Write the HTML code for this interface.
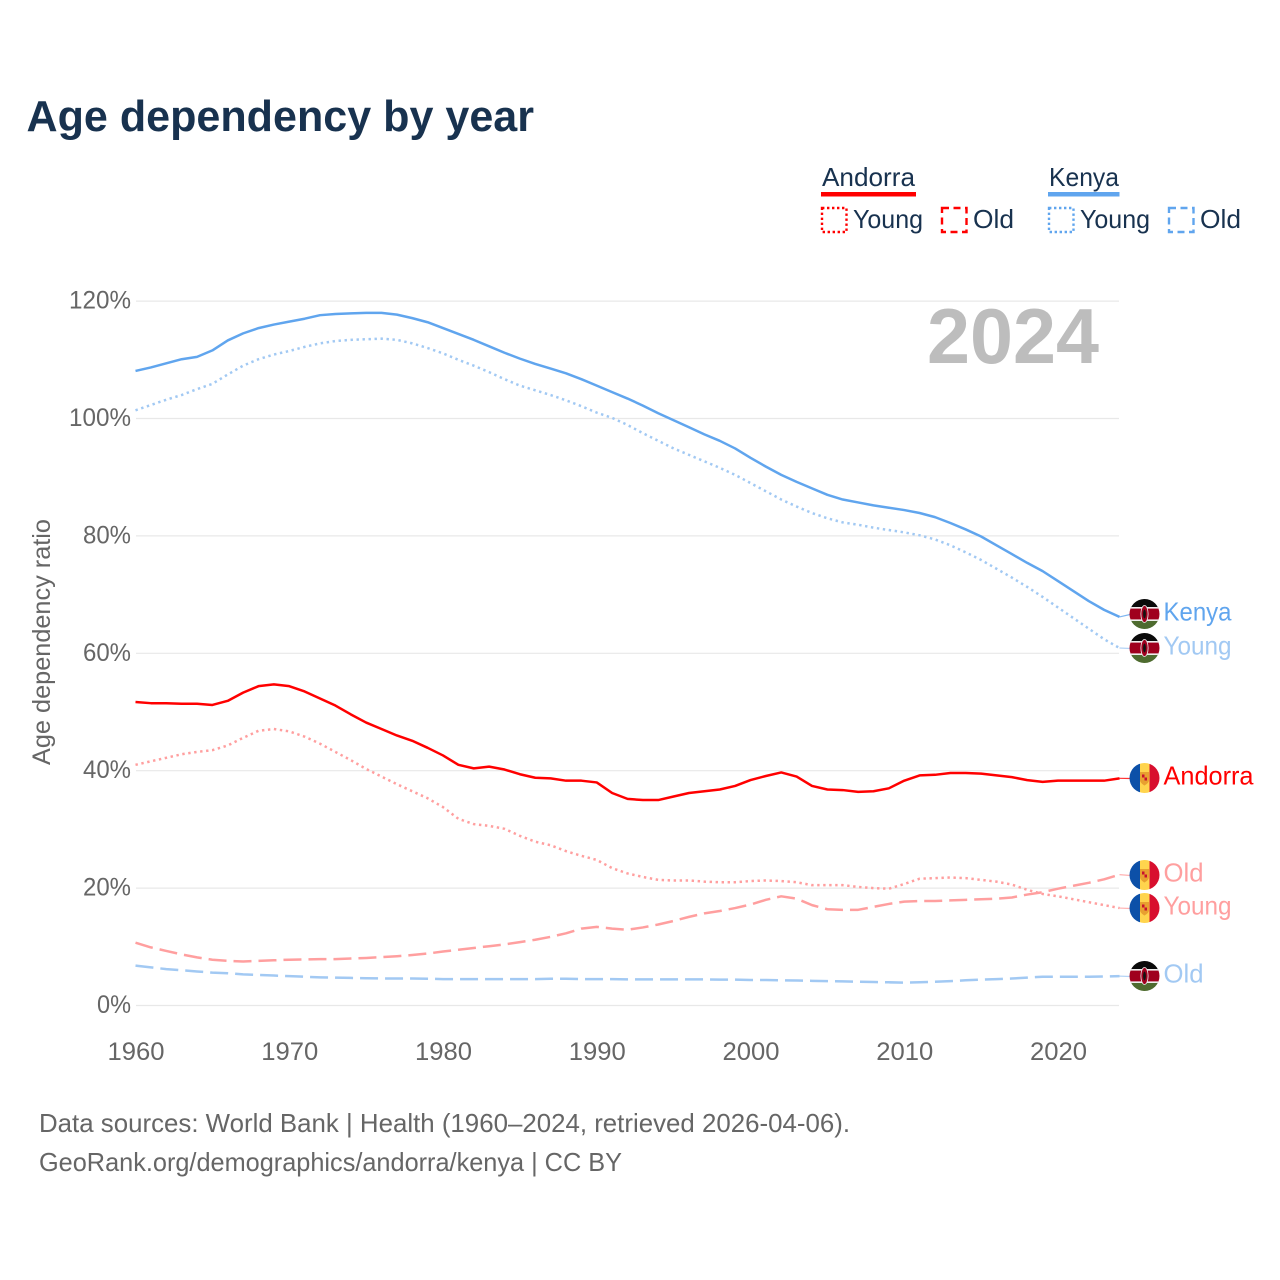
<!DOCTYPE html>
<html lang="en">
<head>
<meta charset="utf-8">
<title>Age dependency by year</title>
<style>
html,body{margin:0;padding:0;background:#fff;}
svg{display:block;font-family:"Liberation Sans",sans-serif;}
</style>
</head>
<body>
<svg id="chart" xmlns="http://www.w3.org/2000/svg" width="1280" height="1280" viewBox="0 0 1280 1280">
  <defs>
    <clipPath id="flag-clip"><circle cx="0" cy="0" r="15"></circle></clipPath>
  </defs>
  <rect width="1280" height="1280" fill="#fff"></rect>
  <text x="26.5" y="131" font-size="44" font-weight="700" fill="#18324f" textLength="507.5" lengthAdjust="spacingAndGlyphs">Age dependency by year</text>

  <g font-size="26" fill="#18324f">
    <text x="822" y="186" textLength="93" lengthAdjust="spacingAndGlyphs">Andorra</text>
    <rect x="821" y="192" width="95" height="4.5" fill="#ff0000"></rect>
    <rect x="822" y="208" width="24.5" height="24" fill="none" stroke="#ff0000" stroke-width="2.4" stroke-dasharray="2.4 2.6"></rect>
    <text x="853" y="228" textLength="70" lengthAdjust="spacingAndGlyphs">Young</text>
    <rect x="942" y="208" width="24.5" height="24" fill="none" stroke="#ff0000" stroke-width="2.4" stroke-dasharray="7 4.5"></rect>
    <text x="973" y="228" textLength="41" lengthAdjust="spacingAndGlyphs">Old</text>
    <text x="1049" y="186" textLength="70" lengthAdjust="spacingAndGlyphs">Kenya</text>
    <rect x="1048" y="192" width="71.5" height="4.5" fill="#60a5ee"></rect>
    <rect x="1049" y="208" width="24.5" height="24" fill="none" stroke="#60a5ee" stroke-width="2.4" stroke-dasharray="2.4 2.6"></rect>
    <text x="1080" y="228" textLength="70" lengthAdjust="spacingAndGlyphs">Young</text>
    <rect x="1169" y="208" width="24.5" height="24" fill="none" stroke="#60a5ee" stroke-width="2.4" stroke-dasharray="7 4.5"></rect>
    <text x="1200" y="228" textLength="41" lengthAdjust="spacingAndGlyphs">Old</text>
  </g>

  <g id="grid"></g>
  <g id="y-ticks" font-size="25" fill="#666"></g>
  <g id="x-ticks" font-size="25" fill="#666"></g>
  <text transform="translate(50,642) rotate(-90)" text-anchor="middle" font-size="25" fill="#666" textLength="246" lengthAdjust="spacingAndGlyphs">Age dependency ratio</text>
  <text x="927" y="363" font-size="78" font-weight="700" fill="#bdbdbd" textLength="172" lengthAdjust="spacingAndGlyphs">2024</text>
  <g id="series"></g>
  <g id="end-labels"></g>

  <g font-size="26" fill="#666">
    <text x="39" y="1132" textLength="811" lengthAdjust="spacingAndGlyphs">Data sources: World Bank | Health (1960–2024, retrieved 2026-04-06).</text>
    <text x="39" y="1171" textLength="583" lengthAdjust="spacingAndGlyphs">GeoRank.org/demographics/andorra/kenya | CC BY</text>
  </g>
</svg>
<script>
var startYear = 1960;
var xTickYears = [1960, 1970, 1980, 1990, 2000, 2010, 2020];
var yTickValues = [0, 20, 40, 60, 80, 100, 120];

var kenyaTotal = [108.1,108.7,109.4,110.1,110.5,111.6,113.3,114.5,115.4,116.0,116.5,117.0,117.6,117.8,117.9,118.0,118.0,117.7,117.1,116.4,115.4,114.4,113.4,112.3,111.2,110.2,109.3,108.5,107.7,106.7,105.6,104.5,103.4,102.2,100.9,99.7,98.5,97.3,96.2,94.9,93.3,91.8,90.4,89.2,88.1,87.0,86.2,85.7,85.2,84.8,84.4,83.9,83.2,82.2,81.1,79.9,78.4,76.9,75.4,74.0,72.3,70.6,68.9,67.4,66.2];
var kenyaYoung = [101.4,102.3,103.2,104.0,105.0,105.9,107.5,109.0,110.1,110.9,111.5,112.2,112.8,113.2,113.4,113.5,113.6,113.4,112.8,112.0,111.1,110.0,109.0,107.9,106.7,105.6,104.8,104.0,103.1,102.1,101.0,100.1,98.9,97.5,96.2,94.9,93.8,92.7,91.6,90.4,89.0,87.6,86.2,85.0,83.9,83.0,82.3,81.9,81.4,81.0,80.6,80.1,79.4,78.4,77.2,75.9,74.4,72.9,71.3,69.6,67.8,66.0,64.2,62.4,60.9];
var kenyaOld = [6.8,6.5,6.2,6.0,5.8,5.6,5.5,5.3,5.2,5.1,5.0,4.9,4.8,4.75,4.7,4.65,4.6,4.6,4.6,4.55,4.5,4.5,4.5,4.5,4.5,4.5,4.5,4.55,4.55,4.5,4.5,4.5,4.45,4.45,4.45,4.45,4.45,4.45,4.4,4.4,4.35,4.35,4.3,4.25,4.2,4.15,4.1,4.05,4.0,3.95,3.9,3.95,4.05,4.15,4.3,4.4,4.5,4.6,4.75,4.9,4.9,4.9,4.9,4.95,5.0];
var andorraTotal = [51.7,51.5,51.5,51.4,51.4,51.2,51.9,53.3,54.4,54.7,54.4,53.5,52.3,51.1,49.6,48.2,47.1,46.0,45.1,43.9,42.6,41.0,40.4,40.7,40.2,39.4,38.8,38.7,38.3,38.3,38.0,36.2,35.2,35.0,35.0,35.6,36.2,36.5,36.8,37.4,38.4,39.1,39.7,39.0,37.4,36.8,36.7,36.4,36.5,37.0,38.3,39.2,39.3,39.6,39.6,39.5,39.2,38.9,38.4,38.1,38.3,38.3,38.3,38.3,38.7];
var andorraYoung = [41.0,41.6,42.2,42.8,43.2,43.5,44.3,45.6,46.8,47.1,46.7,45.8,44.6,43.2,41.8,40.3,39.0,37.7,36.5,35.3,33.8,31.8,30.9,30.6,30.1,28.9,27.9,27.3,26.3,25.5,24.8,23.4,22.5,21.9,21.4,21.3,21.3,21.1,21.0,21.0,21.2,21.3,21.2,21.0,20.5,20.5,20.5,20.2,20.0,19.9,20.7,21.6,21.7,21.8,21.7,21.4,21.1,20.6,19.7,19.0,18.6,18.1,17.6,17.1,16.6];
var andorraOld = [10.7,9.9,9.3,8.7,8.2,7.8,7.6,7.5,7.6,7.7,7.8,7.85,7.9,7.9,8.0,8.1,8.25,8.4,8.6,8.85,9.2,9.5,9.8,10.1,10.4,10.8,11.2,11.7,12.3,13.1,13.4,13.1,12.9,13.3,13.8,14.4,15.1,15.7,16.1,16.6,17.2,18.0,18.6,18.2,17.1,16.4,16.3,16.3,16.8,17.3,17.7,17.8,17.8,17.9,18.0,18.1,18.2,18.4,18.9,19.3,19.9,20.4,20.9,21.5,22.3];

var NS = 'http://www.w3.org/2000/svg';
function xScale(year) { return 135.5 + (year - 1960) * 15.375; }
function yScale(v) { return 1005.5 - v * 5.87; }
function make(tag, attrs, parent) {
  var el = document.createElementNS(NS, tag);
  for (var k in attrs) el.setAttribute(k, attrs[k]);
  parent.appendChild(el);
  return el;
}

var grid = document.getElementById('grid');
var yTicks = document.getElementById('y-ticks');
yTickValues.forEach(function (v) {
  var line = make('line', {x1: 136, x2: 1119, y1: yScale(v), y2: yScale(v), stroke: '#e8e8e8', 'stroke-width': 1.2}, grid);
  
  
  var label = v + '%';
  var t = make('text', {x: 131, y: yScale(v) + 7.5, 'text-anchor': 'end', textLength: (label.length - 1) * 14 + 20, lengthAdjust: 'spacingAndGlyphs'}, yTicks);
  t.textContent = label;
  
  
});

var xTicks = document.getElementById('x-ticks');
xTickYears.forEach(function (yr) {
  var t = make('text', {x: xScale(yr) - 28, y: 1060, textLength: 57, lengthAdjust: 'spacingAndGlyphs'}, xTicks);
  t.textContent = String(yr);
  
  
});

function linePath(values) {
  return values.map(function (v, i) {
    return (i ? 'L' : 'M') + xScale(startYear + i).toFixed(2) + ' ' + yScale(v).toFixed(2);
  }).join('');
}

var RED = '#ff0000', BLUE = '#60a5ee', LRED = '#ff9f9f', LBLUE = '#a2c9f3';
var seriesDefs = [
  {key: 'kenya-total', values: kenyaTotal, color: BLUE, dash: '', label: 'Kenya', labelW: 68, flag: 'ke', flagY: 614},
  {key: 'kenya-young', values: kenyaYoung, color: LBLUE, dash: '2.4 3.6', label: 'Young', labelW: 68, flag: 'ke', flagY: 648},
  {key: 'kenya-old', values: kenyaOld, color: LBLUE, dash: '18 7', label: 'Old', labelW: 40, flag: 'ke', flagY: 976},
  {key: 'andorra-total', values: andorraTotal, color: RED, dash: '', label: 'Andorra', labelW: 90, flag: 'ad', flagY: 778},
  {key: 'andorra-young', values: andorraYoung, color: LRED, dash: '2.4 3.6', label: 'Young', labelW: 68, flag: 'ad', flagY: 908},
  {key: 'andorra-old', values: andorraOld, color: LRED, dash: '18 7', label: 'Old', labelW: 40, flag: 'ad', flagY: 875}
];

function drawFlag(kind, cy, parent) {
  var g = make('g', {transform: 'translate(1144.5,' + cy + ')'}, parent);
  
  
  var c = make('g', {'clip-path': 'url(#flag-clip)'}, g);
  if (kind === 'ke') {
    make('rect', {x: -15, y: -15, width: 30, height: 9, fill: '#0a0a0a'}, c);
    make('rect', {x: -15, y: -6, width: 30, height: 12, fill: '#a0001e'}, c);
    make('rect', {x: -15, y: 6, width: 30, height: 9, fill: '#4e6b2f'}, c);
    make('rect', {x: -15, y: -7, width: 30, height: 1.6, fill: '#eee'}, c);
    make('rect', {x: -15, y: 5.4, width: 30, height: 1.6, fill: '#eee'}, c);
    make('ellipse', {cx: 0, cy: 0, rx: 3.6, ry: 8.5, fill: '#a0001e', stroke: '#eee', 'stroke-width': 0.8}, c);
    make('ellipse', {cx: 0, cy: 0, rx: 1.4, ry: 4.5, fill: '#111'}, c);
  } else {
    make('rect', {x: -15, y: -15, width: 10.5, height: 30, fill: '#0c50a8'}, c);
    make('rect', {x: -4.5, y: -15, width: 9.5, height: 30, fill: '#ffd44d'}, c);
    make('rect', {x: 5, y: -15, width: 10, height: 30, fill: '#d80f2e'}, c);
    make('path', {d: 'M-4.5 -6H4.5V2Q4.5 5 0 7.5Q-4.5 5 -4.5 2Z', fill: '#e8a030'}, c);
    make('rect', {x: -2.5, y: -3.5, width: 2.5, height: 3, fill: '#c8102e'}, c);
    make('rect', {x: 0, y: -0.5, width: 2.5, height: 3, fill: '#c8102e'}, c);
  }
}

var seriesGroup = document.getElementById('series');
var labelsGroup = document.getElementById('end-labels');
seriesDefs.forEach(function (s) {
  var p = make('path', {d: linePath(s.values), fill: 'none', stroke: s.color, 'stroke-width': 2.5, 'stroke-linejoin': 'round'}, seriesGroup);
  if (s.dash) p.setAttribute('stroke-dasharray', s.dash);
  
  
  var lastVal = s.values[s.values.length - 1];
  var conn = make('line', {x1: xScale(startYear + s.values.length - 1), y1: yScale(lastVal), x2: 1130, y2: s.flagY + 0.5, stroke: s.color, 'stroke-width': 1.2, opacity: 0.8}, labelsGroup);
  
  
  drawFlag(s.flag, s.flagY, labelsGroup);
  var t = make('text', {x: 1163.5, y: s.flagY + 6.5, 'font-size': 26, fill: s.color, textLength: s.labelW, lengthAdjust: 'spacingAndGlyphs'}, labelsGroup);
  t.textContent = s.label;
  
  
});
</script>
</body>
</html>
